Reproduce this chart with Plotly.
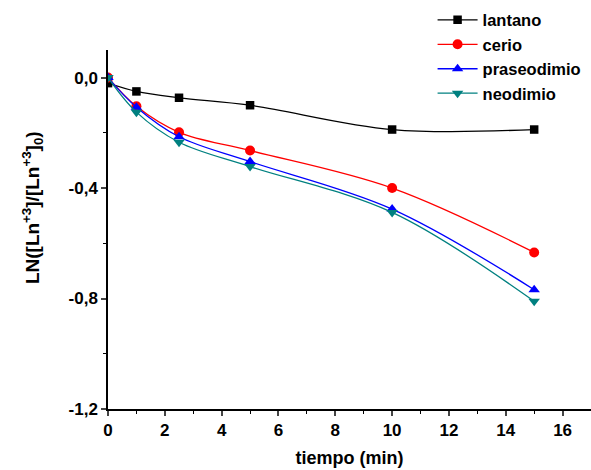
import plotly.graph_objects as go

tiempo = [0, 1, 2.5, 5, 10, 15]
lantano = [-0.02, -0.05, -0.073, -0.10, -0.188, -0.188]
cerio = [0.0, -0.104, -0.198, -0.264, -0.40, -0.633]
praseodimio = [0.0, -0.107, -0.214, -0.304, -0.476, -0.768]
neodimio = [0.0, -0.125, -0.234, -0.322, -0.488, -0.81]

series = [
    ("lantano", lantano, "#000000", "square", 8.5),
    ("cerio", cerio, "#ff0000", "circle", 10),
    ("praseodimio", praseodimio, "#0000ff", "triangle-up", 10),
    ("neodimio", neodimio, "#008080", "triangle-down", 10),
]

y_tickvals = [-1.2, -0.8, -0.4, 0.0]
y_ticktext = ["-1,2", "-0,8", "-0,4", "0,0"]
x_tickvals = [0, 2, 4, 6, 8, 10, 12, 14, 16]

FONT = "Liberation Sans, Arial, sans-serif"

fig = go.Figure()
for name, ys, color, sym, msize in series:
    fig.add_trace(go.Scatter(
        x=tiempo, y=ys, name=name, mode="lines+markers",
        line=dict(color=color, width=1.3, shape="spline", smoothing=1.0),
        marker=dict(symbol=sym, size=msize, color=color),
    ))

fig.update_layout(
    width=591, height=470,
    margin=dict(l=108, r=0, t=50, b=61, autoexpand=False),
    plot_bgcolor="white", paper_bgcolor="white",
    font=dict(family=FONT, size=17, color="black"),
    showlegend=True,
    legend=dict(x=0.672, y=1.132, xanchor="left", yanchor="top",
                font=dict(size=16.5, family=FONT, color="black", weight="bold"),
                bgcolor="rgba(0,0,0,0)", tracegroupgap=0, itemwidth=40),
    annotations=[dict(
        text="<b>LN([Ln<sup>+3</sup>]/[Ln<sup>+3</sup>]<sub>0</sub>)</b>",
        xref="paper", yref="paper", x=-0.155, y=0.56, xanchor="center", yanchor="middle",
        textangle=-90, showarrow=False, font=dict(size=19, family=FONT, color="black"),
    )],
)
fig.update_xaxes(
    range=[0, 17], tickvals=x_tickvals, ticks="outside", ticklen=5, tickwidth=1.5,
    showline=True, linecolor="black", linewidth=1.5, showgrid=False, zeroline=False,
    tickfont=dict(size=17, weight="bold"),
    minor=dict(ticks="outside", ticklen=3, tickwidth=1.2, dtick=1, tick0=0, tickcolor="black"),
    title=dict(text="<b>tiempo (min)</b>", font=dict(size=18), standoff=12),
)
fig.update_yaxes(
    range=[-1.2, 0.1], tickvals=y_tickvals, ticktext=y_ticktext, ticks="outside",
    ticklen=5, tickwidth=1.5,
    showline=True, linecolor="black", linewidth=1.5, showgrid=False, zeroline=False,
    tickfont=dict(size=17, weight="bold"),
    minor=dict(ticks="outside", ticklen=3, tickwidth=1.2, dtick=0.2, tick0=0, tickcolor="black"),
)

fig.write_html("out.html", config={"displayModeBar": False},
               post_script="document.body.style.margin='0';")
